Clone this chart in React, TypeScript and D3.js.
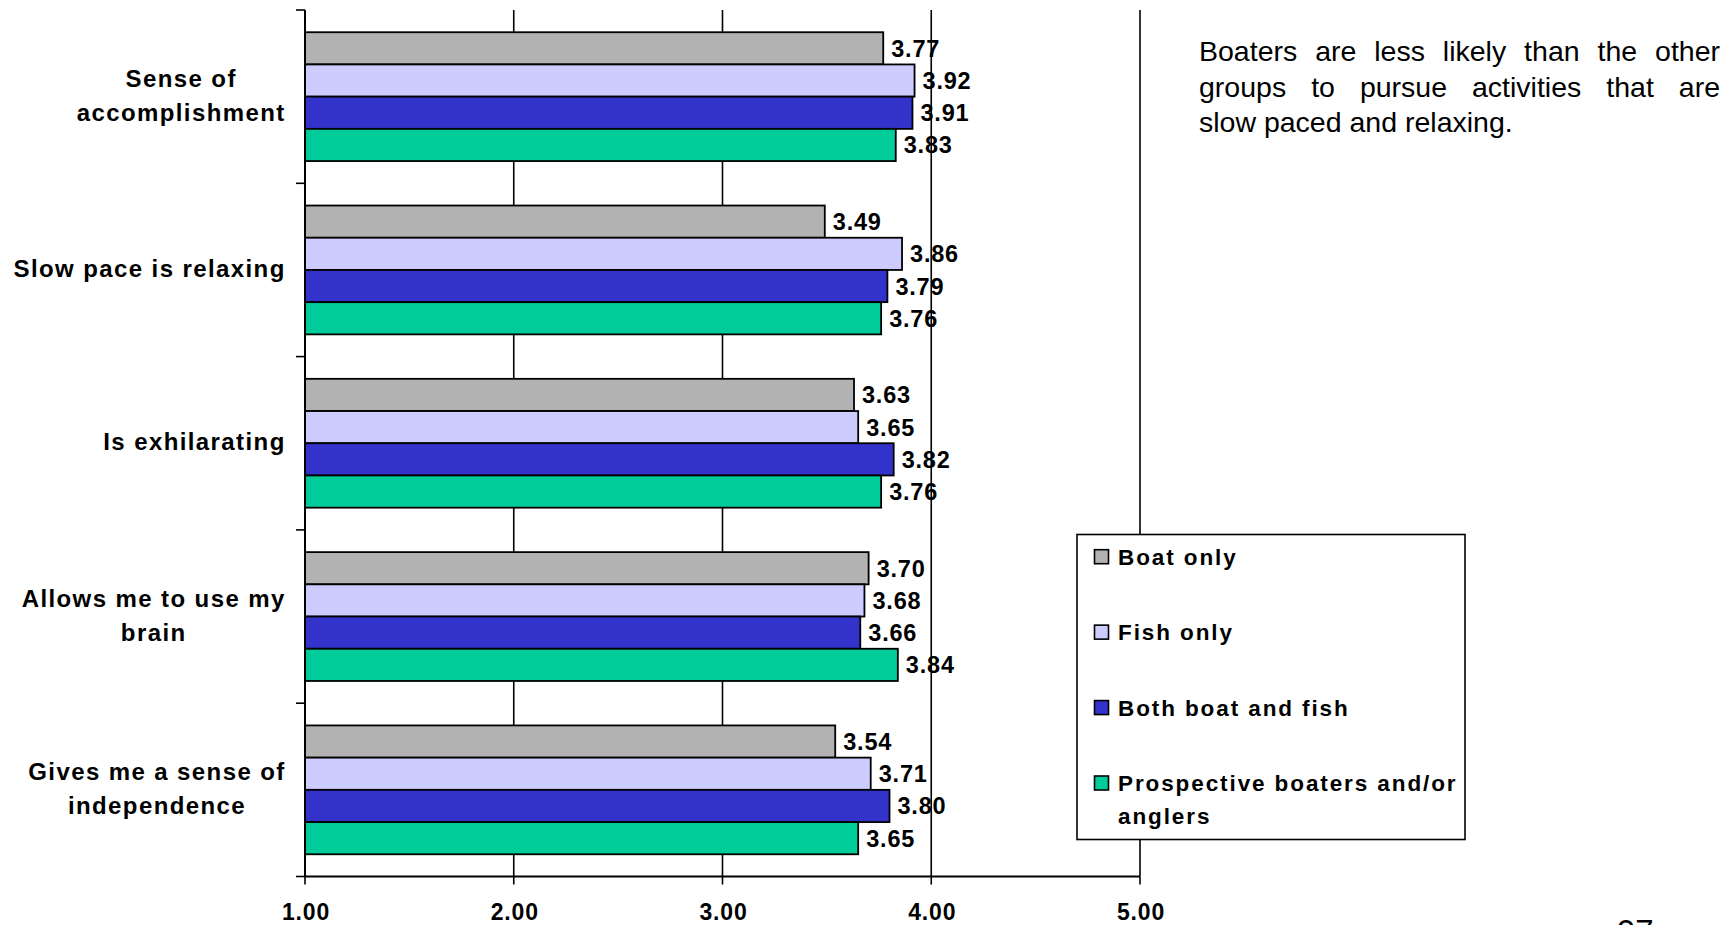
import React from "react";
import * as d3 from "d3";

// Rating scale: 1.00 – 5.00 (mean agreement)
const categories = [
  "Sense of accomplishment",
  "Slow pace is relaxing",
  "Is exhilarating",
  "Allows me to use my brain",
  "Gives me a sense of independence",
];
const categoryLines = [
  ["Sense of", "accomplishment"],
  ["Slow pace is relaxing"],
  ["Is exhilarating"],
  ["Allows me to use my", "brain"],
  ["Gives me a sense of", "independence"],
];
const seriesNames = ["Boat only", "Fish only", "Both boat and fish", "Prospective boaters and/or anglers"];
const legendLines = [["Boat only"], ["Fish only"], ["Both boat and fish"], ["Prospective boaters and/or", "anglers"]];
const seriesColors = ["#B2B2B2", "#CCCCFF", "#3333CC", "#00CC99"];

const boatOnly = [3.77, 3.49, 3.63, 3.7, 3.54];
const fishOnly = [3.92, 3.86, 3.65, 3.68, 3.71];
const bothBoatAndFish = [3.91, 3.79, 3.82, 3.66, 3.8];
const prospective = [3.83, 3.76, 3.76, 3.84, 3.65];
const seriesValues = [boatOnly, fishOnly, bothBoatAndFish, prospective];

const xTicks = [1, 2, 3, 4, 5];

const noteLines = [
  "Boaters are less likely than the other",
  "groups to pursue activities that are",
  "slow paced and relaxing.",
];
const pageNumber = "97";

const FONT = "'Liberation Sans', Arial, Helvetica, sans-serif";

let measureCtx: CanvasRenderingContext2D | null = null;
function textWidth(s: string, font: string, letterSpacing = 0): number {
  if (!measureCtx) measureCtx = document.createElement("canvas").getContext("2d");
  measureCtx!.font = font;
  return measureCtx!.measureText(s).width + letterSpacing * s.length;
}

export default function App() {
  const W = 1736;
  const H = 925;
  const plot = { left: 305, right: 1140, top: 10, bottom: 876.5 };

  const x = d3.scaleLinear().domain([1, 5]).range([plot.left, plot.right]);
  const y0 = d3.scaleBand<string>().domain(categories).range([plot.top, plot.bottom]).padding(0);
  const y1 = d3
    .scaleBand<string>()
    .domain(seriesNames)
    .range([0, y0.bandwidth()])
    .paddingInner(0)
    .paddingOuter(0.69);

  const catSize = 24;
  const catFont = `bold ${catSize}px ${FONT}`;
  const catLS = 1.4;
  const labelRight = 285;

  const legendBox = { x: 1077, y: 534.5, w: 388, h: 305 };
  const legendY = d3.scalePoint<string>().domain(seriesNames).range([556.7, 783]);

  // justified note text on the right
  const noteSize = 28.5;
  const noteFont = `${noteSize}px ${FONT}`;
  const noteLeft = 1199;
  const noteRight = 1720;
  const noteY = d3.scalePoint<number>().domain(noteLines.map((_, i) => i)).range([61, 132]);

  return (
    <svg
      width={W}
      height={H}
      style={{ position: "absolute", left: 0, top: 0, background: "#fff" }}
      fontFamily={FONT}
    >
      <rect x={0} y={0} width={W} height={H} fill="#fff" />

      {/* vertical gridlines */}
      {xTicks.slice(1).map((t) => (
        <line key={t} x1={x(t)} x2={x(t)} y1={plot.top} y2={plot.bottom} stroke="#000" strokeWidth={1.6} />
      ))}

      {/* bars */}
      {categories.map((c, ci) => (
        <g key={c} transform={`translate(0,${y0(c)})`}>
          {seriesNames.map((s, si) => {
            const v = seriesValues[si][ci];
            const by = y1(s)!;
            const bh = y1.bandwidth();
            return (
              <g key={s}>
                <rect
                  x={x(1)}
                  y={by}
                  width={x(v) - x(1)}
                  height={bh}
                  fill={seriesColors[si]}
                  stroke="#000"
                  strokeWidth={1.8}
                />
                <text
                  x={x(v) + 8}
                  y={by + bh / 2}
                  dy="0.36em"
                  fontSize={23.5}
                  fontWeight="bold"
                  letterSpacing={0.8}
                  fill="#000"
                >
                  {d3.format(".2f")(v)}
                </text>
              </g>
            );
          })}
        </g>
      ))}

      {/* y axis */}
      <line x1={plot.left} x2={plot.left} y1={plot.top} y2={plot.bottom} stroke="#000" strokeWidth={2} />
      {categories.map((c) => (
        <line key={c} x1={plot.left - 9} x2={plot.left} y1={y0(c)} y2={y0(c)} stroke="#000" strokeWidth={1.6} />
      ))}
      <line x1={plot.left - 9} x2={plot.left} y1={plot.bottom} y2={plot.bottom} stroke="#000" strokeWidth={1.6} />

      {/* x axis */}
      <line x1={plot.left} x2={plot.right} y1={plot.bottom} y2={plot.bottom} stroke="#000" strokeWidth={2} />
      {xTicks.map((t) => (
        <g key={t}>
          <line x1={x(t)} x2={x(t)} y1={plot.bottom} y2={plot.bottom + 8} stroke="#000" strokeWidth={1.6} />
          <text x={x(t) + 1} y={919.5} textAnchor="middle" fontSize={23} fontWeight="bold" letterSpacing={0.8}>
            {d3.format(".2f")(t)}
          </text>
        </g>
      ))}

      {/* category labels */}
      {categories.map((c, ci) => {
        const lines = categoryLines[ci];
        const maxW = d3.max(lines, (l) => textWidth(l, catFont, catLS)) || 0;
        const cx = labelRight - maxW / 2 + catLS / 2;
        const cy = y0(c)! + y0.bandwidth() / 2;
        const lh = 34;
        return (
          <text key={c} fontSize={catSize} fontWeight="bold" letterSpacing={catLS} textAnchor="middle" fill="#000">
            {lines.map((l, li) => (
              <tspan key={li} x={cx} y={cy + (li - (lines.length - 1) / 2) * lh - 1.5} dy="0.36em">
                {l}
              </tspan>
            ))}
          </text>
        );
      })}

      {/* legend */}
      <rect
        x={legendBox.x}
        y={legendBox.y}
        width={legendBox.w}
        height={legendBox.h}
        fill="#fff"
        stroke="#000"
        strokeWidth={1.6}
      />
      {seriesNames.map((s, si) => {
        const cy = legendY(s)!;
        return (
          <g key={s}>
            <rect x={1094.5} y={cy - 7} width={14} height={14} fill={seriesColors[si]} stroke="#000" strokeWidth={1.6} />
            <text fontSize={22.5} fontWeight="bold" letterSpacing={1.9} fill="#000">
              {legendLines[si].map((l, li) => (
                <tspan key={li} x={1118} y={cy + 8 + li * 33}>
                  {l}
                </tspan>
              ))}
            </text>
          </g>
        );
      })}

      {/* note, justified except the last line */}
      {noteLines.map((line, li) => {
        const words = line.split(" ");
        const last = li === noteLines.length - 1;
        const widths = words.map((w) => textWidth(w, noteFont));
        const space = textWidth(" ", noteFont);
        const gap = last
          ? space
          : (noteRight - noteLeft - d3.sum(widths)) / Math.max(1, words.length - 1);
        let cursor = noteLeft;
        return (
          <text key={li} fontSize={noteSize} fill="#000" y={noteY(li)}>
            {words.map((w, wi) => {
              const px = cursor;
              cursor += widths[wi] + gap;
              return (
                <tspan key={wi} x={px} y={noteY(li)}>
                  {w}
                </tspan>
              );
            })}
          </text>
        );
      })}

      {/* page number */}
      <text x={1617} y={943} fontSize={33} fill="#000">
        {pageNumber}
      </text>
    </svg>
  );
}
